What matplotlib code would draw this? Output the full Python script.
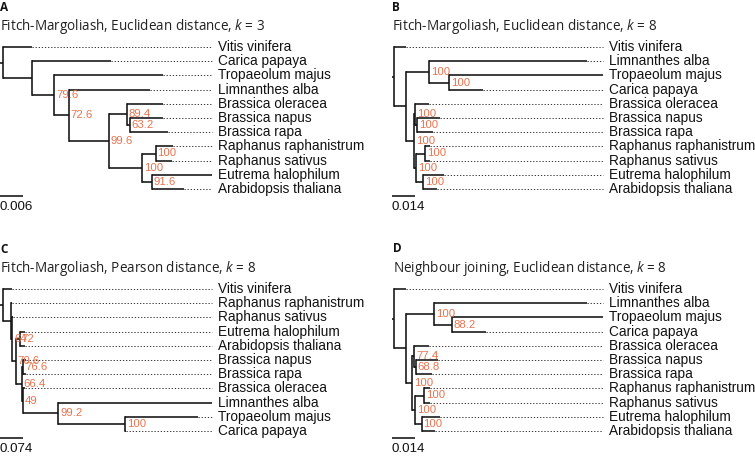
import matplotlib
matplotlib.use("Agg")
import matplotlib.pyplot as plt

plt.rcParams['font.family'] = ['Liberation Sans', 'DejaVu Sans']
plt.rcParams['mathtext.fontset'] = 'custom'
plt.rcParams['mathtext.rm'] = 'Open Sans'
plt.rcParams['mathtext.it'] = 'Open Sans:italic'

# ---------------- data ----------------
panel_letters = ["A", "B", "C", "D"]
panel_titles = [
    "Fitch-Margoliash, Euclidean distance, $k$ = 3",
    "Fitch-Margoliash, Euclidean distance, $k$ = 8",
    "Fitch-Margoliash, Pearson distance, $k$ = 8",
    "Neighbour joining, Euclidean distance, $k$ = 8",
]
scale_bars = [0.006, 0.014, 0.074, 0.014]
scale_labels = ["0.006", "0.014", "0.074", "0.014"]

tree_A = ("(Vitis_vinifera:0.00762,(Carica_papaya:0.02019,(Tropaeolum_majus:0.02807,"
          "(Limnanthes_alba:0.02086,((Brassica_oleracea:0.00942,(Brassica_napus:0.00858,"
          "Brassica_rapa:0.00979)63.2:0.00085)89.4:0.00456,((Raphanus_raphanistrum:0.00446,"
          "Raphanus_sativus:0.00412)100:0.00345,(Eutrema_halophilum:0.01553,"
          "Arabidopsis_thaliana:0.00839)91.6:0.00242)100:0.00858)99.6:0.0103)72.6:0.00379)"
          "79.6:0.00567):0.00762):0.0007;")
tree_B = ("(Vitis_vinifera:0.00721,((Limnanthes_alba:0.09494,(Tropaeolum_majus:0.09254,"
          "Carica_papaya:0.01995)100:0.01202)100:0.01418,((Brassica_oleracea:0.00829,"
          "(Brassica_napus:0.01382,Brassica_rapa:0.00943)100:0.0009)100:0.0009,"
          "((Raphanus_raphanistrum:0.003,Raphanus_sativus:0.003)100:0.00511,"
          "(Eutrema_halophilum:0.01244,Arabidopsis_thaliana:0.00805)100:0.00409)100:0.0015)"
          "100:0.00499):0.00703):0.0015;")
tree_C = ("(Vitis_vinifera:0.02858,(Raphanus_raphanistrum:0.00318,(Raphanus_sativus:0.00127,"
          "((Eutrema_halophilum:0.01588,Arabidopsis_thaliana:0.01588)72:0.01366,"
          "((Brassica_napus:0.00858,Brassica_rapa:0.00858)76.6:0.00508,(Brassica_oleracea:0.0073,"
          "(Limnanthes_alba:0.4891,(Tropaeolum_majus:0.2328,Carica_papaya:0.00318)100:0.21184)"
          "99.2:0.11307)49:0.00318)66.4:0.01906)70.6:0.0108)64:0.00413):0.02636):0.0086;")
tree_D = ("(Vitis_vinifera:0.00721,((Limnanthes_alba:0.09194,(Tropaeolum_majus:0.0911,"
          "Carica_papaya:0.02061)88.2:0.01046)100:0.01701,((Brassica_oleracea:0.00901,"
          "(Brassica_napus:0.01358,Brassica_rapa:0.00961)68.8:0.00084)77.4:0.0012,"
          "((Raphanus_raphanistrum:0.00343,Raphanus_sativus:0.00343)100:0.00559,"
          "(Eutrema_halophilum:0.011,Arabidopsis_thaliana:0.00799)100:0.00403)100:0.00162)"
          "100:0.00379):0.00721):0.0015;")
trees = [tree_A, tree_B, tree_C, tree_D]

# ---------------- helpers ----------------
def parse_newick(s):
    pos = 0
    def node():
        nonlocal pos
        n = {'children': [], 'name': '', 'len': 0.0}
        if s[pos] == '(':
            pos += 1
            while True:
                n['children'].append(node())
                if s[pos] == ',':
                    pos += 1
                    continue
                if s[pos] == ')':
                    pos += 1
                    break
        start = pos
        while s[pos] not in ':,();':
            pos += 1
        n['name'] = s[start:pos].replace('_', ' ')
        if s[pos] == ':':
            pos += 1
            start = pos
            while s[pos] not in ',();':
                pos += 1
            n['len'] = float(s[start:pos])
        return n
    return node()

def layout(root):
    counter = [0]
    def lay(n, x):
        n['x'] = x + n['len']
        if n['children']:
            for c in n['children']:
                lay(c, n['x'])
            n['y'] = (n['children'][0]['y'] + n['children'][-1]['y']) / 2.0
        else:
            n['y'] = counter[0]
            counter[0] += 1
    lay(root, 0.0)
    return counter[0]

def walk(n):
    yield n
    for c in n['children']:
        yield from walk(c)

# ---------------- figure ----------------
W, H = 755, 458
fig = plt.figure(figsize=(W / 100, H / 100), dpi=100)

BAR_PX = 23.3          # scale-bar length in pixels
TIP_STEP = 14.2        # pixel spacing of tips
regions = [(0, 375, 0, 228), (375, 755, 0, 228), (0, 375, 228, 458), (375, 755, 228, 458)]
origins = [(0.0, 47.0), (391.5, 47.0), (0.0, 289.0), (391.5, 289.0)]
title_pos = [(0, 26), (392.3, 26), (0, 268.5), (393.3, 268.5)]
letter_pos = [(0, 7.5), (392.3, 7.5), (0, 249.5), (393.3, 249.0)]

LINE = '#111111'
ORANGE = '#E8734F'

for k in range(4):
    L, R, T, B = regions[k]
    x0, y0 = origins[k]
    ppu = BAR_PX / scale_bars[k]
    ax = fig.add_axes([L / W, 1 - B / H, (R - L) / W, (B - T) / H])
    ax.set_xlim((L - x0) / ppu, (R - x0) / ppu)
    ax.set_ylim((B - y0) / TIP_STEP, (T - y0) / TIP_STEP)
    ax.axis('off')

    root = parse_newick(trees[k])
    ntip = layout(root)
    nodes = list(walk(root))
    xmax = max(n['x'] for n in nodes if not n['children'])
    px = 1.0 / ppu

    # root edge
    ax.plot([0, root['x']], [root['y'], root['y']], color=LINE, lw=1.15,
            solid_capstyle='butt')
    for n in nodes:
        if n['children']:
            ys = [c['y'] for c in n['children']]
            ax.plot([n['x'], n['x']], [min(ys), max(ys)], color=LINE, lw=1.15,
                    solid_capstyle='projecting')
            for c in n['children']:
                ax.plot([n['x'], c['x']], [c['y'], c['y']], color=LINE, lw=1.15,
                        solid_capstyle='butt')
            if n['name'] and n is not root:
                ax.text(n['x'] + 1.8 * px, n['y'], n['name'], color=ORANGE,
                        fontsize=8.2, ha='left', va='center')
        else:
            if xmax - n['x'] > 0.5 * px:
                ax.plot([n['x'], xmax], [n['y'], n['y']], color='#333333', lw=0.7,
                        linestyle=(0, (1.3, 1.9)))
            ax.text(xmax + 5.5 * px, n['y'], n['name'], fontsize=9.8,
                    ha='left', va='center', color='#111111')

    # scale bar
    yb = ntip - 0.5
    ax.plot([0, scale_bars[k]], [yb, yb], color=LINE, lw=1.15, solid_capstyle='butt')
    ax.text(0, ntip + 0.25, scale_labels[k], fontsize=9.6, ha='left', va='center',
            color='#111111')

    tx, ty = title_pos[k]
    fig.text(tx / W, 1 - ty / H, panel_titles[k], fontsize=9.75, family='Open Sans',
             ha='left', va='center', color='#222222')
    lx, ly = letter_pos[k]
    fig.text(lx / W, 1 - ly / H, panel_letters[k], fontsize=8.5, family='Open Sans',
             fontweight='bold', ha='left', va='center', color='#111111')

fig.savefig('out.png', dpi=100)
